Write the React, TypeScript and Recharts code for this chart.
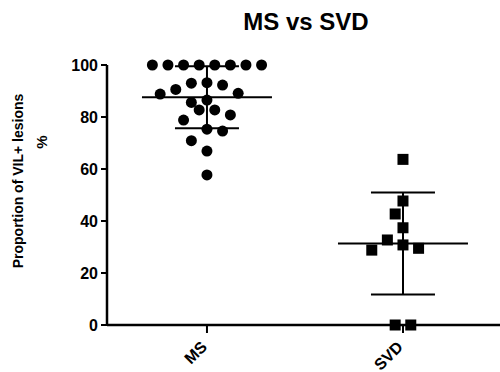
import { ComposedChart, Scatter, XAxis, YAxis, ErrorBar } from 'recharts'

const categories = ['MS', 'SVD']
const msValues = [
    100, 100, 100, 100, 100, 100, 100, 100, 93.2, 93, 92.3, 90.6, 89.1,
    88.8, 86.5, 85.6, 82.7, 82.7, 80.8, 78.8, 75.3, 74.6, 70.9, 66.9, 57.7,
]
const svdValues = [63.7, 47.7, 42.7, 37.4, 32.7, 30.8, 29.5, 28.8, 0, 0]
const yTicks = [0, 20, 40, 60, 80, 100]

// chart geometry
const W = 500
const H = 372
const AXIS_LEFT = 107
const PLOT_TOP = 65
const PLOT_BOTTOM = 325
const X_DOMAIN: [number, number] = [0.49, 2.495]
const PX_PER_X = (W - AXIS_LEFT) / (X_DOMAIN[1] - X_DOMAIN[0])
const PX_PER_Y = (PLOT_BOTTOM - PLOT_TOP) / 100

const FONT = '"Liberation Sans", Arial, sans-serif'

// simple beeswarm: ties spread symmetrically, others greedy
function swarm(values: number[], center: number) {
    const step = 15.6
    const half = step / 2
    const minDist = 15
    const sorted = [...values].sort((a, b) => b - a)
    const placed: { px: number; py: number }[] = []
    const out: { x: number; y: number }[] = []
    let i = 0
    while (i < sorted.length) {
        let j = i
        while (j < sorted.length && sorted[j] === sorted[i]) j++
        const n = j - i
        const py = sorted[i] * PX_PER_Y
        if (n > 1) {
            for (let k = 0; k < n; k++) {
                const px = (k - (n - 1) / 2) * step
                placed.push({ px, py })
                out.push({ x: center + px / PX_PER_X, y: sorted[i] })
            }
        } else {
            let px = 0
            for (let m = 0; m < 40; m++) {
                const cand = m === 0 ? 0 : (m % 2 ? -1 : 1) * Math.ceil(m / 2) * half
                const hit = placed.some(p => Math.hypot(p.px - cand, p.py - py) < minDist)
                if (!hit) { px = cand; break }
            }
            placed.push({ px, py })
            out.push({ x: center + px / PX_PER_X, y: sorted[i] })
        }
        i = j
    }
    return out
}

function stats(values: number[]) {
    const mean = values.reduce((a, b) => a + b, 0) / values.length
    const sd = Math.sqrt(values.reduce((a, b) => a + (b - mean) ** 2, 0) / (values.length - 1))
    return { mean, sd }
}

const msStats = stats(msValues)
const svdStats = stats(svdValues)
const msPoints = swarm(msValues, 1)
const svdPoints = swarm(svdValues, 2)
const meanData = [
    { x: 1, y: msStats.mean, sd: msStats.sd },
    { x: 2, y: svdStats.mean, sd: svdStats.sd },
]

const Circle = (props: any) => <circle cx={props.cx} cy={props.cy} r={5.5} fill="#000" />
const Square = (props: any) => (
    <rect x={props.cx - 5.5} y={props.cy - 5.5} width={11} height={11} fill="#000" />
)
const MeanLine = (props: any) => (
    <line x1={props.cx - 65} x2={props.cx + 65} y1={props.cy} y2={props.cy} stroke="#000" strokeWidth={2} />
)

const XTick = ({ x, y, payload }: any) => (
    <text
        transform={`translate(${x + 1},${y + 13}) rotate(-45)`}
        textAnchor="end"
        fontFamily={FONT}
        fontWeight="bold"
        fontSize={16}
        fill="#000"
    >
        {categories[payload.value - 1]}
    </text>
)

const YLabel = () => (
    <g fontFamily={FONT} fontWeight="bold" fontSize={14} fill="#000">
        <text transform="translate(23,181) rotate(-90)" textAnchor="middle">
            Proportion of VIL+ lesions
        </text>
        <text transform="translate(47,142) rotate(-90)" textAnchor="middle" fontSize={15}>
            %
        </text>
    </g>
)

export default function App() {
    return (
        <div style={{ position: 'absolute', left: 0, top: 0, width: W, height: H, background: '#fff' }}>
            <div
                style={{
                    position: 'absolute', left: 206, top: 10, width: 200, textAlign: 'center',
                    fontFamily: FONT, fontWeight: 'bold', fontSize: 24, lineHeight: '24px', color: '#000',
                }}
            >
                MS vs SVD
            </div>
            <ComposedChart
                width={W}
                height={H}
                margin={{ top: PLOT_TOP, right: 0, bottom: 0, left: 0 }}
            >
                <XAxis
                    type="number"
                    dataKey="x"
                    domain={X_DOMAIN}
                    ticks={[1, 2]}
                    height={H - PLOT_BOTTOM}
                    axisLine={{ stroke: '#000', strokeWidth: 2.5 }}
                    tickLine={{ stroke: '#000', strokeWidth: 2 }}
                    tickSize={8}
                    tick={<XTick />}
                    interval={0}
                />
                <YAxis
                    type="number"
                    dataKey="y"
                    domain={[0, 100]}
                    ticks={yTicks}
                    width={AXIS_LEFT}
                    axisLine={{ stroke: '#000', strokeWidth: 2.5 }}
                    tickLine={{ stroke: '#000', strokeWidth: 2 }}
                    tickSize={6}
                    tickMargin={3}
                    tick={{ fill: '#000', fontSize: 16, fontWeight: 'bold', fontFamily: FONT }}
                    label={{ content: <YLabel /> }}
                />
                <Scatter data={msPoints} shape={<Circle />} isAnimationActive={false} />
                <Scatter data={svdPoints} shape={<Square />} isAnimationActive={false} />
                <Scatter data={meanData} shape={<MeanLine />} isAnimationActive={false}>
                    <ErrorBar dataKey="sd" direction="y" width={32} stroke="#000" strokeWidth={2} />
                </Scatter>
            </ComposedChart>
        </div>
    )
}
